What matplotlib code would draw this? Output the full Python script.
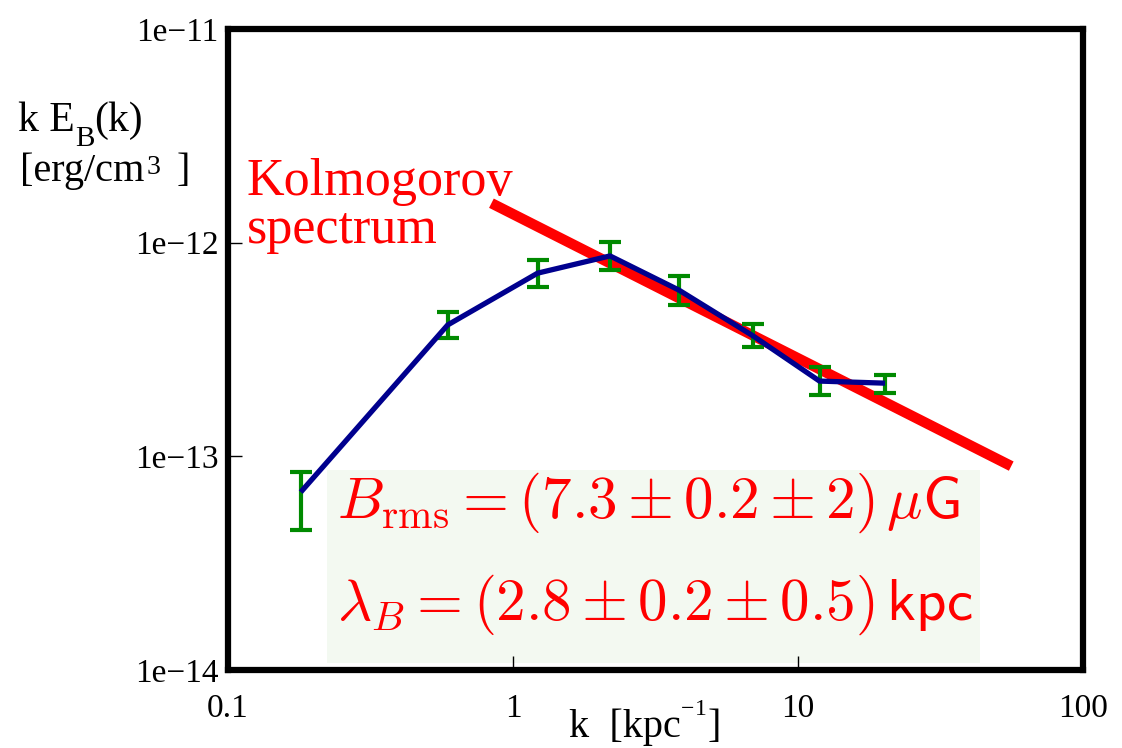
import matplotlib
matplotlib.use("Agg")
import matplotlib.pyplot as plt
from matplotlib.patches import Rectangle

# ---- data ----
k_vals = [0.18, 0.59, 1.22, 2.19, 3.82, 6.96, 11.9, 20.2]
kE_vals = [6.8e-14, 4.12e-13, 7.2e-13, 8.67e-13, 6.0e-13, 3.66e-13, 2.25e-13, 2.2e-13]
kE_low = [4.53e-14, 3.58e-13, 6.21e-13, 7.45e-13, 5.11e-13, 3.25e-13, 1.94e-13, 1.98e-13]
kE_high = [8.45e-14, 4.74e-13, 8.30e-13, 1.007e-12, 6.98e-13, 4.17e-13, 2.62e-13, 2.40e-13]
kolmo_k = [0.84, 56.0]
kolmo_E = [1.53e-12, 9.0e-14]
xticks = [0.1, 1, 10, 100]
xticklabels = ["0.1", "1", "10", "100"]
yticks = [1e-14, 1e-13, 1e-12, 1e-11]
yticklabels = ["1e\u221214", "1e\u221213", "1e\u221212", "1e\u221211"]

serif = ["Liberation Serif", "DejaVu Serif"]
plt.rcParams["font.family"] = serif

W, H = 1122, 748
fig = plt.figure(figsize=(W / 100, H / 100), dpi=100)
ax = fig.add_axes([228 / W, 1 - 670 / H, 855 / W, 641 / H])
ax.set_xscale("log")
ax.set_yscale("log")
ax.set_xlim(0.1, 100)
ax.set_ylim(1e-14, 1e-11)

# Kolmogorov line
ax.plot(kolmo_k, kolmo_E, color="#ff0000", lw=7.5, solid_capstyle="butt", zorder=2)

# error bars
lower = [v - lo for v, lo in zip(kE_vals, kE_low)]
upper = [hi - v for v, hi in zip(kE_vals, kE_high)]
ax.errorbar(k_vals, kE_vals, yerr=[lower, upper], fmt="none", ecolor="#008a00",
            elinewidth=3.0, capsize=8, capthick=3.0, zorder=3)
# spectrum line
ax.plot(k_vals, kE_vals, color="#00008e", lw=3.8, zorder=4, solid_capstyle="butt")

# ticks
ax.set_xticks(xticks)
ax.set_xticklabels(xticklabels)
ax.set_yticks(yticks)
ax.set_yticklabels(yticklabels)
ax.minorticks_off()
ax.tick_params(axis="both", which="major", direction="in", length=10, width=1,
               labelsize=24, color="black")
ax.tick_params(axis="x", pad=17)
ax.tick_params(axis="y", pad=7)
for lab in ax.get_xticklabels() + ax.get_yticklabels():
    lab.set_family(serif)
for sp in ax.spines.values():
    sp.set_linewidth(4.5)

# annotation box
ax.add_patch(Rectangle((0.1158, 0.0109), 0.7637, 0.301, transform=ax.transAxes,
                       facecolor="#f3f9f1", edgecolor="none", zorder=1))
ax.text(0.128, 0.238, r"$B_{\rm rms} = (7.3 \pm 0.2 \pm 2)\,\mu\mathsf{G}$",
        transform=ax.transAxes, color="#ff0000", fontsize=42.5,
        math_fontfamily="cm", ha="left", va="baseline", zorder=5)
ax.text(0.128, 0.078, r"$\lambda_B = (2.8 \pm 0.2 \pm 0.5)\,\mathsf{kpc}$",
        transform=ax.transAxes, color="#ff0000", fontsize=42.5,
        math_fontfamily="cm", ha="left", va="baseline", zorder=5)

# Kolmogorov label
fig.text(247 / W, 1 - 195 / H, "Kolmogorov", color="#ff0000", fontsize=37.5,
         family=serif, ha="left", va="baseline")
fig.text(247 / W, 1 - 243 / H, "spectrum", color="#ff0000", fontsize=37.5,
         family=serif, ha="left", va="baseline")

renderer = fig.canvas.get_renderer()


def put_pieces(x0, y0, pieces):
    """pieces: list of (text, fontsize, dy_px, gap_px_before)"""
    x = x0
    for txt, fs, dy, gap in pieces:
        x += gap
        t = fig.text(x / W, 1 - (y0 + dy) / H, txt, fontsize=fs, family=serif,
                     ha="left", va="baseline", color="black")
        bb = t.get_window_extent(renderer)
        x = bb.x1


# y label (top-left)
put_pieces(18, 131, [("k E", 30, 0, 0), ("B", 21, 15, 0), ("(k)", 30, 0, 0)])
put_pieces(20, 181, [("[erg/cm", 29, 0, 0), ("3", 20, -7, 2), ("]", 29, 0, 16)])

# x label
put_pieces(569, 737, [("k  [kpc", 29, 0, 0), ("\u2212", 17, -22, 0),
                      ("1", 17, -22, 1), ("]", 29, 0, 0)])

fig.savefig("out.png", dpi=100)
